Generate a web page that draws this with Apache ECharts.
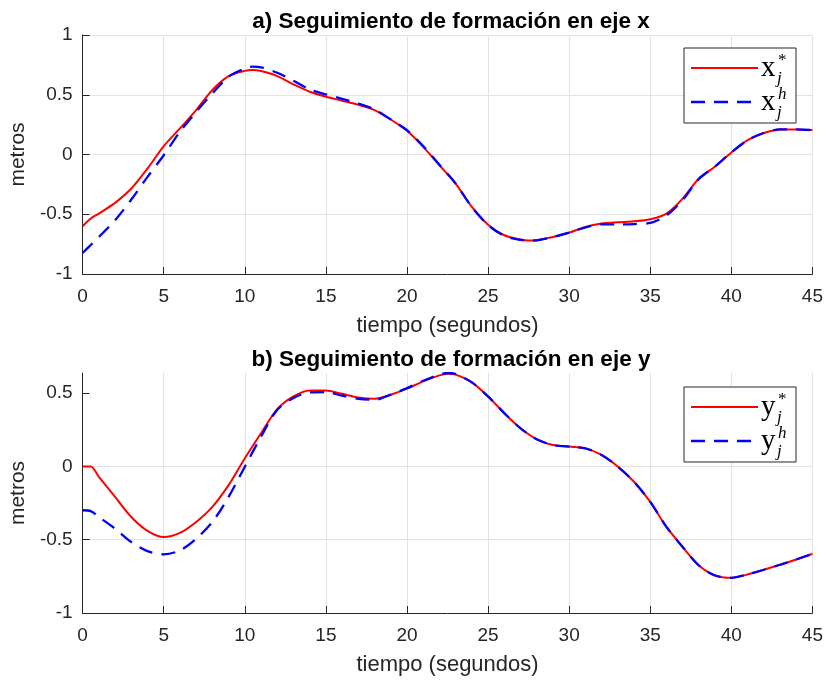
<!DOCTYPE html>
<html>
<head>
<meta charset="utf-8">
<script src="https://cdn.jsdelivr.net/npm/echarts@6/dist/echarts.min.js"></script>
<style>
  html, body { margin: 0; padding: 0; background: #fff; }
  #chart { width: 826px; height: 681px; }
</style>
</head>
<body>
<div id="chart"></div>
<script>
// tiempo (s) de las muestras leidas
var tX = [0, 0.5, 1, 2, 3, 4, 5, 6, 7, 8, 9, 10, 10.5, 11, 12, 13, 14, 15, 16, 17, 18, 19, 20, 21, 22, 23, 24, 25, 26, 27, 27.5, 28, 29, 30, 31, 32, 33, 34, 35, 36, 37, 38, 39, 40, 41, 42, 43, 44, 45];
var xStar = [-0.60, -0.535, -0.494, -0.405, -0.285, -0.117, 0.07, 0.218, 0.372, 0.54, 0.656, 0.70, 0.707, 0.698, 0.656, 0.587, 0.525, 0.483, 0.45, 0.416, 0.372, 0.293, 0.198, 0.064, -0.09, -0.243, -0.439, -0.587, -0.676, -0.712, -0.72, -0.718, -0.69, -0.654, -0.606, -0.578, -0.567, -0.559, -0.542, -0.494, -0.369, -0.201, -0.10, 0.017, 0.12, 0.18, 0.21, 0.21, 0.204];
var xH = [-0.824, -0.757, -0.69, -0.55, -0.377, -0.187, -0.006, 0.19, 0.357, 0.511, 0.65, 0.72, 0.735, 0.729, 0.684, 0.617, 0.545, 0.503, 0.466, 0.427, 0.377, 0.293, 0.204, 0.07, -0.085, -0.243, -0.44, -0.59, -0.68, -0.715, -0.72, -0.718, -0.69, -0.654, -0.61, -0.585, -0.585, -0.582, -0.573, -0.51, -0.38, -0.205, -0.10, 0.017, 0.12, 0.18, 0.21, 0.21, 0.204];

var tY = [0, 0.5, 1, 2, 3, 4, 5, 6, 7, 8, 9, 10, 11, 12, 13, 14, 15, 16, 17, 18, 19, 20, 21, 22, 22.5, 23, 24, 25, 26, 27, 28, 29, 30, 31, 32, 33, 34, 35, 36, 37, 38, 39, 40, 41, 42, 43, 44, 45];
var yStar = [0.0, 0.0, -0.071, -0.208, -0.345, -0.44, -0.482, -0.454, -0.379, -0.276, -0.128, 0.055, 0.226, 0.39, 0.477, 0.518, 0.518, 0.495, 0.47, 0.461, 0.489, 0.53, 0.58, 0.621, 0.632, 0.626, 0.573, 0.477, 0.363, 0.26, 0.185, 0.146, 0.135, 0.123, 0.078, -0.002, -0.105, -0.242, -0.413, -0.55, -0.676, -0.744, -0.76, -0.737, -0.705, -0.671, -0.635, -0.596];
var yH = [-0.299, -0.305, -0.345, -0.425, -0.516, -0.578, -0.60, -0.573, -0.493, -0.379, -0.208, -0.002, 0.203, 0.386, 0.466, 0.505, 0.507, 0.482, 0.461, 0.454, 0.489, 0.534, 0.584, 0.626, 0.637, 0.63, 0.573, 0.477, 0.363, 0.26, 0.185, 0.146, 0.135, 0.123, 0.078, -0.002, -0.105, -0.242, -0.413, -0.55, -0.676, -0.744, -0.76, -0.737, -0.705, -0.671, -0.635, -0.596];

var titles = ['a) Seguimiento de formación en eje x', 'b) Seguimiento de formación en eje y'];
var xTicks = { min: 0, max: 45, interval: 5 };

function pairs(t, v) {
  return t.map(function (ti, i) { return [ti, v[i]]; });
}

var sans = '"Liberation Sans", Arial, sans-serif';
var serif = '"Liberation Serif", "Times New Roman", serif';
var dark = '#262626';

function xAxisOf(idx) {
  return {
    gridIndex: idx, type: 'value', min: xTicks.min, max: xTicks.max, interval: xTicks.interval,
    name: 'tiempo (segundos)', nameLocation: 'middle', nameGap: 41,
    nameTextStyle: { fontFamily: sans, fontSize: 22, color: dark },
    axisLine: { onZero: false, lineStyle: { color: dark, width: 1 } },
    axisTick: { inside: true, length: 7, lineStyle: { color: dark } },
    axisLabel: { fontFamily: sans, fontSize: 19, color: dark, margin: 13 },
    splitLine: { show: true, lineStyle: { color: '#e3e3e3', width: 1 } }
  };
}
function yAxisOf(idx, max) {
  return {
    gridIndex: idx, type: 'value', min: -1, max: max, interval: 0.5,
    name: 'metros', nameLocation: 'middle', nameGap: 47,
    nameTextStyle: { fontFamily: sans, fontSize: 21, color: dark },
    axisLine: { show: true, onZero: false, lineStyle: { color: dark, width: 1 } },
    axisTick: { show: true, inside: true, length: 7, lineStyle: { color: dark }, customValues: [-1, -0.5, 0, 0.5, 1].filter(function (v) { return v <= max; }) },
    axisLabel: { fontFamily: sans, fontSize: 19, color: dark, margin: 10, showMaxLabel: max === 1 },
    splitLine: { show: true, showMaxLine: max === 1, lineStyle: { color: '#e3e3e3', width: 1 } }
  };
}

function lineSeries(name, idx, data, color, dashed) {
  return {
    name: name, type: 'line', xAxisIndex: idx, yAxisIndex: idx, data: data,
    smooth: 0.3, showSymbol: false, symbol: 'none',
    lineStyle: { color: color, width: dashed ? 2.3 : 2, type: dashed ? [14, 9] : 'solid' },
    z: dashed ? 3 : 2
  };
}

// leyenda con notacion x_j^*, x_j^h
function legendBox(top, letter) {
  var left = 684;
  var els = [
    { type: 'rect', shape: { x: left, y: top, width: 112, height: 75 }, style: { fill: '#fff', stroke: dark, lineWidth: 1 }, z: 10 },
    { type: 'line', shape: { x1: left + 7, y1: top + 20, x2: left + 74, y2: top + 20 }, style: { stroke: '#ff0000', lineWidth: 2 }, z: 11 },
    { type: 'line', shape: { x1: left + 7, y1: top + 54, x2: left + 74, y2: top + 54 }, style: { stroke: '#0000ff', lineWidth: 2.3, lineDash: [14, 9] }, z: 11 }
  ];
  var rows = [{ y: top + 20, sup: '*', supItalic: false }, { y: top + 54, sup: 'h', supItalic: true }];
  rows.forEach(function (r) {
    els.push({ type: 'text', x: left + 77, y: r.y, z: 11, style: { text: letter, font: '29px ' + serif, fill: '#000', verticalAlign: 'middle' } });
    els.push({ type: 'text', x: left + 94, y: r.y - 7, z: 11, style: { text: r.sup, font: (r.supItalic ? 'italic ' : '') + '17px ' + serif, fill: '#000', verticalAlign: 'middle' } });
    els.push({ type: 'text', x: left + 93, y: r.y + 11, z: 11, style: { text: 'j', font: 'italic 17px ' + serif, fill: '#000', verticalAlign: 'middle' } });
  });
  return els;
}

var chart = echarts.init(document.getElementById('chart'));
chart.setOption({
  backgroundColor: '#fff',
  animation: false,
  title: [
    { text: titles[0], left: 446, top: 5, textAlign: 'center', textStyle: { fontFamily: sans, fontSize: 22.5, fontWeight: 'bold', color: '#000' } },
    { text: titles[1], left: 446, top: 343, textAlign: 'center', textStyle: { fontFamily: sans, fontSize: 22.5, fontWeight: 'bold', color: '#000' } }
  ],
  grid: [
    { left: 78, right: 10, top: 35, height: 239 },
    { left: 78, right: 10, top: 373, height: 240 }
  ],
  xAxis: [xAxisOf(0), xAxisOf(1)],
  yAxis: [yAxisOf(0, 1), yAxisOf(1, 0.637)],
  series: [
    lineSeries('x*', 0, pairs(tX, xStar), '#ff0000', false),
    lineSeries('xh', 0, pairs(tX, xH), '#0000ff', true),
    lineSeries('y*', 1, pairs(tY, yStar), '#ff0000', false),
    lineSeries('yh', 1, pairs(tY, yH), '#0000ff', true)
  ],
  graphic: legendBox(48, 'x').concat(legendBox(387, 'y'))
});
</script>
</body>
</html>
